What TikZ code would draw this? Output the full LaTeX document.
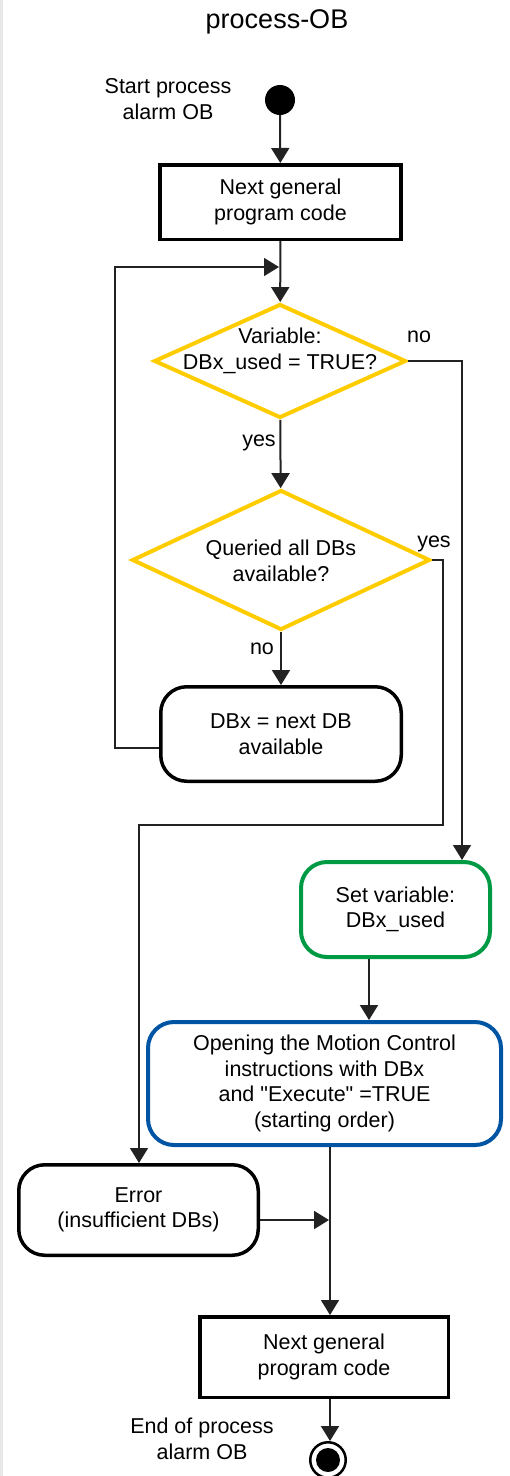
\documentclass[tikz,border=0pt]{standalone}
\usepackage{fontspec}
\setmainfont{Liberation Sans}[Ligatures=TeXOff]
\usetikzlibrary{shapes.geometric,arrows.meta}
\definecolor{sieyellow}{RGB}{255,204,0}
\definecolor{siegreen}{RGB}{0,153,68}
\definecolor{sieblue}{RGB}{0,84,164}
\definecolor{linecol}{RGB}{34,34,34}
\definecolor{stripgray}{RGB}{232,232,232}
\begin{document}
\begin{tikzpicture}[x=1pt,y=-1pt,
  txt/.style={font=\fontsize{21.5}{25.5}\selectfont, align=center, inner sep=0pt, text=black},
  lbl/.style={font=\fontsize{21.5}{25.5}\selectfont, inner sep=0pt, text=black},
  plainbox/.style={draw=black, line width=3.5pt, inner sep=0pt, txt},
  roundbox/.style={draw=black, line width=3.5pt, rounded corners=26pt, inner sep=0pt, txt},
  decision/.style={diamond, draw=sieyellow, line width=4pt, inner sep=0pt},
  arr/.style={draw=linecol, line width=2pt, -{Triangle[width=18pt,length=15pt]}},
  thinarr/.style={draw=linecol, line width=1.5pt, -{Triangle[width=18pt,length=15pt]}}
]
\useasboundingbox (0,0) rectangle (509,1476);
\fill[stripgray] (0,0) rectangle (3,1476);

% title
\node[font=\fontsize{27}{32}\selectfont, inner sep=0pt] (title) at (277,22) {process-OB};

% start
\node[circle, fill=black, minimum size=30pt, inner sep=0pt] (start) at (280,100) {};
\node[txt] (starttxt) at (168,99) {Start process\\alarm OB};

% boxes
\node[plainbox, minimum width=241pt, minimum height=74.5pt] (box1) at (280.5,202) {Next general\\program code};

\node[decision, minimum width=252pt, minimum height=114pt] (d1) at (280,361) {};
\node[txt] (d1txt) at (280,351) {Variable:\\DBx\_used = TRUE?};

\node[decision, minimum width=298pt, minimum height=140pt] (d2) at (281,560) {};
\node[txt] (d2txt) at (281,561) {Queried all DBs\\available?};

\node[roundbox, minimum width=240.5pt, minimum height=94.5pt] (dbx) at (281,734) {DBx = next DB\\available};

\node[roundbox, draw=siegreen, line width=4pt, minimum width=189pt, minimum height=95pt] (green) at (395.5,909.5) {Set variable:\\DBx\_used};

\node[roundbox, draw=sieblue, line width=4pt, minimum width=353pt, minimum height=123pt] (blue) at (324.5,1083.5) {Opening the Motion Control\\instructions with DBx\\and "Execute" =TRUE\\(starting order)};

\node[roundbox, minimum width=239.5pt, minimum height=90.5pt] (err) at (138.5,1210) {Error\\(insufficient DBs)};

\node[plainbox, minimum width=248.5pt, minimum height=80.5pt] (box2) at (324,1357) {Next general\\program code};

% end
\node[circle, draw=black, line width=2.5pt, minimum size=35.5pt, inner sep=0pt] (endc) at (328,1460) {};
\node[circle, fill=black, minimum size=24pt, inner sep=0pt] (endd) at (328,1460) {};
\node[txt] (endtxt) at (202,1439) {End of process\\alarm OB};

% labels
\node[lbl] (no1) at (419,337) {no};
\node[lbl] (yes1) at (259,443) {yes};
\node[lbl] (yes2) at (434,544) {yes};
\node[lbl] (no2) at (262,649) {no};

% helper coordinates
\coordinate (j1) at (279,267);
\coordinate (l1) at (115,748);
\coordinate (l2) at (115,267);
\coordinate (n1) at (462,361);
\coordinate (y1) at (443,560);
\coordinate (y2) at (443,825);
\coordinate (y3) at (139,825);
\coordinate (gx) at (369,0);
\coordinate (mx) at (330,0);
\coordinate (m1) at (329,1220);

% connectors
\draw[arr] (start) -- (box1);
\draw[arr] (box1) -- (d1);
\draw[thinarr] (dbx.west |- l1) -- (l1) -- (l2) -- (j1);
\draw[arr] (d1) -- (d2);
\draw[arr] (d2) -- (dbx);
\draw[thinarr] (d1.east) -- (n1) -- (green.north -| n1);
\draw[thinarr] (d2.east) -- (y1) -- (y2) -- (y3) -- (err.north -| y3);
\draw[arr] (green.south -| gx) -- (blue.north -| gx);
\draw[thinarr] (blue.south -| mx) -- (box2.north -| mx);
\draw[arr] ([yshift=-10pt]err.east) -- (m1);
\draw[arr] (box2.south -| mx) -- (endc.north -| mx);
\end{tikzpicture}
\end{document}
